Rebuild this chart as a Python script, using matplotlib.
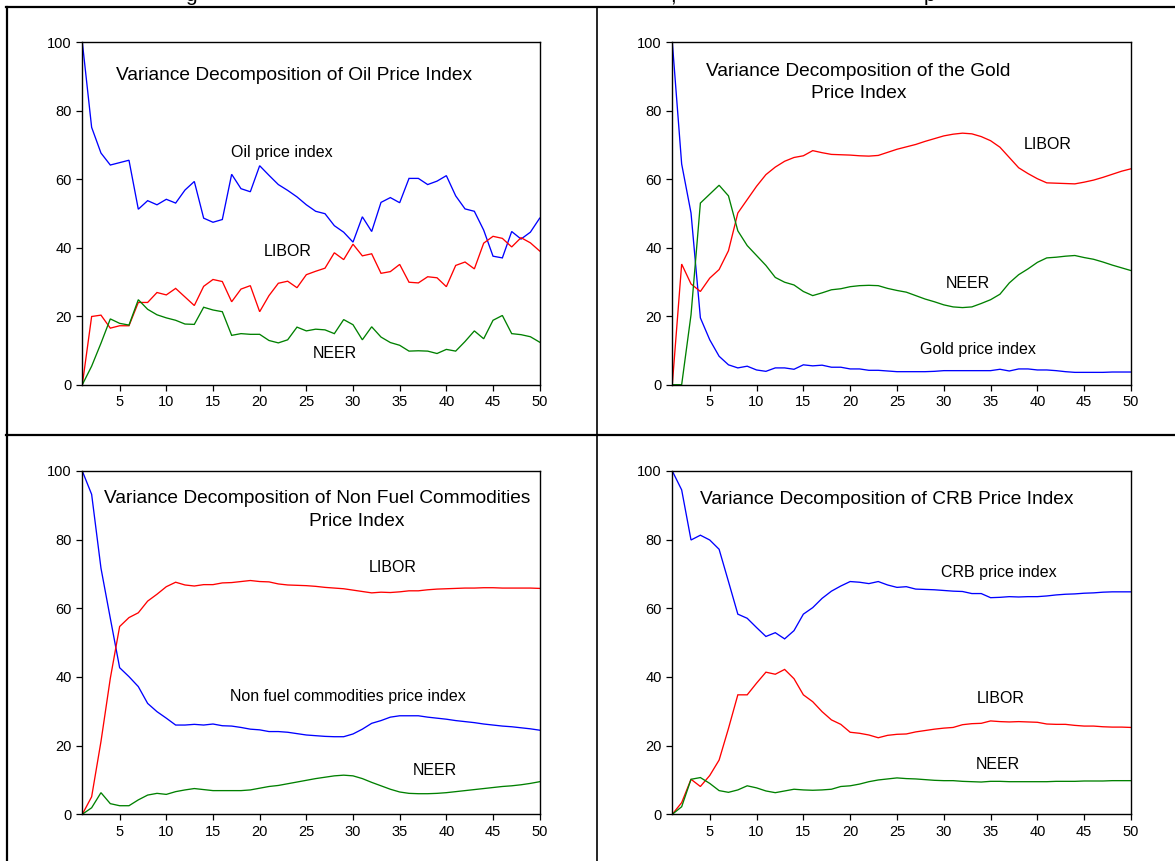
import matplotlib
matplotlib.use("Agg")
import matplotlib.pyplot as plt
from matplotlib.lines import Line2D
import numpy as np

plt.rcParams['font.family'] = ['Liberation Sans', 'DejaVu Sans']

periods = list(range(1, 51))

# Panel 1: Variance decomposition of Oil Price Index
oil_oil = [100, 75.1, 67.6, 64.1, 64.8, 65.5, 51.2, 53.7, 52.5, 54.1,
           53.0, 56.8, 59.3, 48.6, 47.4, 48.2, 61.4, 57.2, 56.3, 63.9,
           61.1, 58.4, 56.7, 54.8, 52.5, 50.6, 49.9, 46.4, 44.5, 41.6,
           49.0, 44.7, 53.2, 54.6, 53.1, 60.2, 60.2, 58.4, 59.4, 61.0,
           55.1, 51.3, 50.6, 45.1, 37.5, 37.0, 44.7, 42.5, 44.5, 48.6]
oil_libor = [0, 19.9, 20.3, 16.5, 17.2, 17.2, 24.0, 24.0, 26.9, 26.2,
             28.1, 25.6, 23.1, 28.7, 30.7, 30.1, 24.2, 27.9, 28.9, 21.3,
             26.0, 29.6, 30.2, 28.3, 32.1, 33.1, 34.0, 38.5, 36.5, 41.0,
             37.6, 38.2, 32.5, 33.0, 35.1, 29.9, 29.7, 31.5, 31.2, 28.6,
             34.8, 35.8, 33.8, 41.3, 43.3, 42.7, 40.2, 42.9, 41.4, 39.0]
oil_neer = [0, 5.4, 12.1, 19.2, 17.9, 17.4, 24.8, 22.0, 20.4, 19.5,
            18.8, 17.7, 17.6, 22.6, 21.8, 21.3, 14.4, 14.9, 14.7, 14.7,
            12.9, 12.2, 13.1, 16.8, 15.7, 16.2, 16.0, 14.9, 19.0, 17.5,
            13.1, 16.9, 13.9, 12.3, 11.5, 9.8, 9.9, 9.8, 9.1, 10.3,
            9.8, 12.6, 15.7, 13.4, 18.8, 20.2, 14.9, 14.6, 14.0, 12.4]

# Panel 2: Variance decomposition of the Gold Price Index
gold_gold = [100, 64.4, 50.1, 19.5, 13.1, 8.3, 5.8, 4.9, 5.4, 4.3,
             3.9, 4.9, 4.9, 4.5, 5.8, 5.5, 5.7, 5.1, 5.1, 4.6,
             4.6, 4.2, 4.2, 4.0, 3.8, 3.8, 3.8, 3.8, 3.9, 4.1,
             4.1, 4.1, 4.1, 4.1, 4.1, 4.5, 4.0, 4.6, 4.6, 4.3,
             4.3, 4.1, 3.8, 3.6, 3.6, 3.6, 3.6, 3.7, 3.7, 3.7]
gold_libor = [0, 35.2, 29.4, 27.2, 31.1, 33.6, 39.1, 50.1, 54.0, 57.9,
              61.3, 63.5, 65.2, 66.3, 66.8, 68.3, 67.7, 67.2, 67.1, 67.0,
              66.8, 66.7, 66.9, 67.8, 68.7, 69.4, 70.1, 71.0, 71.8, 72.6,
              73.1, 73.4, 73.2, 72.4, 71.2, 69.3, 66.3, 63.3, 61.6, 60.1,
              58.9, 58.8, 58.7, 58.6, 59.1, 59.7, 60.5, 61.4, 62.3, 63.0]
gold_neer = [0, 0.0, 20.4, 53.0, 55.6, 58.2, 55.1, 44.9, 40.6, 37.7,
             34.8, 31.3, 29.9, 29.1, 27.2, 26.0, 26.8, 27.7, 28.0, 28.6,
             28.9, 29.0, 28.9, 28.1, 27.5, 27.0, 26.0, 25.0, 24.2, 23.3,
             22.7, 22.5, 22.7, 23.7, 24.8, 26.4, 29.7, 32.1, 33.8, 35.7,
             37.0, 37.2, 37.5, 37.7, 37.1, 36.6, 35.8, 34.9, 34.1, 33.3]

# Panel 3: Variance decomposition of Non Fuel Commodities Price Index
nfc_nfc = [100, 93.2, 71.7, 57.1, 42.7, 40.1, 37.2, 32.3, 29.9, 28.0,
           26.0, 26.0, 26.2, 26.0, 26.3, 25.8, 25.7, 25.3, 24.8, 24.6,
           24.1, 24.1, 23.9, 23.5, 23.1, 22.9, 22.7, 22.6, 22.6, 23.4,
           24.8, 26.5, 27.3, 28.3, 28.7, 28.7, 28.7, 28.3, 28.0, 27.7,
           27.3, 27.0, 26.7, 26.3, 26.0, 25.7, 25.5, 25.2, 24.9, 24.5]
nfc_libor = [0, 5.1, 21.2, 39.6, 54.7, 57.3, 58.7, 62.1, 64.1, 66.3,
             67.6, 66.8, 66.5, 66.9, 66.9, 67.4, 67.5, 67.8, 68.1, 67.8,
             67.7, 67.1, 66.8, 66.7, 66.6, 66.4, 66.1, 65.9, 65.7, 65.3,
             64.9, 64.5, 64.7, 64.6, 64.8, 65.1, 65.1, 65.4, 65.6, 65.7,
             65.8, 65.9, 65.9, 66.0, 66.0, 65.9, 65.9, 65.9, 65.9, 65.8]
nfc_neer = [0, 1.9, 6.3, 3.1, 2.5, 2.5, 4.2, 5.6, 6.1, 5.8,
            6.6, 7.1, 7.5, 7.2, 6.9, 6.9, 6.9, 6.9, 7.1, 7.6,
            8.1, 8.4, 8.9, 9.4, 9.9, 10.4, 10.8, 11.2, 11.4, 11.2,
            10.4, 9.3, 8.3, 7.3, 6.5, 6.1, 6.0, 6.0, 6.1, 6.3,
            6.6, 6.9, 7.2, 7.5, 7.8, 8.1, 8.3, 8.6, 9.0, 9.5]

# Panel 4: Variance decomposition of CRB Price Index
crb_crb = [100, 94.5, 79.9, 81.3, 79.9, 77.2, 67.8, 58.3, 57.1, 54.4,
           51.8, 52.9, 51.1, 53.5, 58.3, 60.2, 62.9, 65.0, 66.5, 67.8,
           67.6, 67.2, 67.8, 66.8, 66.1, 66.3, 65.6, 65.5, 65.4, 65.2,
           65.0, 64.9, 64.3, 64.3, 63.1, 63.2, 63.4, 63.3, 63.4, 63.4,
           63.6, 63.9, 64.1, 64.2, 64.4, 64.5, 64.7, 64.8, 64.8, 64.8]
crb_libor = [0, 3.4, 10.2, 8.1, 11.3, 15.8, 25.0, 34.8, 34.8, 38.2,
             41.4, 40.8, 42.2, 39.5, 34.8, 32.8, 29.9, 27.5, 26.2, 23.9,
             23.6, 23.1, 22.3, 23.0, 23.3, 23.4, 24.0, 24.4, 24.8, 25.1,
             25.3, 26.1, 26.4, 26.5, 27.2, 27.0, 26.9, 27.0, 26.9, 26.8,
             26.3, 26.2, 26.2, 25.9, 25.7, 25.7, 25.5, 25.4, 25.4, 25.3]
crb_neer = [0, 2.2, 10.2, 10.7, 9.0, 6.9, 6.4, 7.1, 8.3, 7.7,
            6.8, 6.3, 6.8, 7.3, 7.1, 7.0, 7.1, 7.3, 8.1, 8.3,
            8.8, 9.5, 10.0, 10.3, 10.6, 10.4, 10.3, 10.1, 9.9, 9.8,
            9.8, 9.6, 9.5, 9.4, 9.6, 9.6, 9.5, 9.5, 9.5, 9.5,
            9.5, 9.6, 9.6, 9.6, 9.7, 9.7, 9.7, 9.8, 9.8, 9.8]

x_ticks = [5, 10, 15, 20, 25, 30, 35, 40, 45, 50]
y_ticks = [0, 20, 40, 60, 80, 100]

W, H = 1175, 861
fig = plt.figure(figsize=(W / 100, H / 100), dpi=100)
fig.patch.set_facecolor('white')


def px_axes(left, top, right, bottom):
    return fig.add_axes([left / W, 1 - bottom / H, (right - left) / W, (bottom - top) / H])


BLUE, RED, GREEN = '#0000FF', '#FF0000', '#008000'

panels = [
    dict(box=(82.3, 42, 539.7, 384.7),
         series=[(oil_oil, BLUE), (oil_libor, RED), (oil_neer, GREEN)],
         title=[("Variance Decomposition of Oil Price Index", 23.66, 89.0)],
         labels=[("Oil price index", 22.4, 66.4), ("LIBOR", 23.0, 37.7), ("NEER", 28.07, 7.8)]),
    dict(box=(672.3, 42, 1131, 384.7),
         series=[(gold_gold, BLUE), (gold_libor, RED), (gold_neer, GREEN)],
         title=[("Variance Decomposition of the Gold", 20.87, 90.2), ("Price Index", 20.97, 83.6)],
         labels=[("LIBOR", 41.1, 68.7), ("NEER", 32.6, 28.2), ("Gold price index", 33.66, 8.9)]),
    dict(box=(82.3, 471, 539.7, 814.3),
         series=[(nfc_nfc, BLUE), (nfc_libor, RED), (nfc_neer, GREEN)],
         title=[("Variance Decomposition of Non Fuel Commodities", 26.16, 90.8), ("Price Index", 30.4, 84.1)],
         labels=[("LIBOR", 34.3, 70.7), ("Non fuel commodities price index", 29.5, 33.1), ("NEER", 38.8, 11.4)]),
    dict(box=(672.3, 471, 1131, 814.3),
         series=[(crb_crb, BLUE), (crb_libor, RED), (crb_neer, GREEN)],
         title=[("Variance Decomposition of CRB Price Index", 23.96, 90.4)],
         labels=[("CRB price index", 35.85, 69.2), ("LIBOR", 36.1, 32.5), ("NEER", 35.8, 13.1)]),
]

for p in panels:
    ax = px_axes(*p['box'])
    for vals, col in p['series']:
        ax.plot(periods, vals, color=col, linewidth=0.95, solid_joinstyle='miter')
    ax.set_xlim(1, 50)
    ax.set_ylim(0, 100)
    ax.set_xticks(x_ticks)
    ax.set_yticks(y_ticks)
    ax.tick_params(direction='out', length=4.5, width=0.9, pad=3, labelsize=10.5, colors='black')
    for s in ax.spines.values():
        s.set_linewidth(1.0)
        s.set_color('black')
    for txt, tx, ty in p['title']:
        ax.text(tx, ty, txt, ha='center', va='baseline', fontsize=13.8, color='black')
    for txt, tx, ty in p['labels']:
        ax.text(tx, ty, txt, ha='center', va='baseline', fontsize=11.5, color='black')

# frame lines (table grid around the panels)
def fline(x0, y0, x1, y1, lw):
    fig.add_artist(Line2D([x0 / W, x1 / W], [1 - y0 / H, 1 - y1 / H], color='black',
                          linewidth=lw, transform=fig.transFigure))

fline(6, 7, W, 7, 1.6)
fline(7, 7, 7, H, 1.6)
fline(596.5, 7, 596.5, H, 1.2)
fline(6, 435.5, W, 435.5, 1.6)

# cut-off caption remnants at very top (the reference shows only their descenders)
for ch, xp in [("g", 191), (",", 673), ("p", 929)]:
    fig.text(xp / W, 1 - 1 / H, ch, ha='center', va='baseline', fontsize=15, color='black')

fig.savefig("out.png", dpi=100, facecolor='white')
